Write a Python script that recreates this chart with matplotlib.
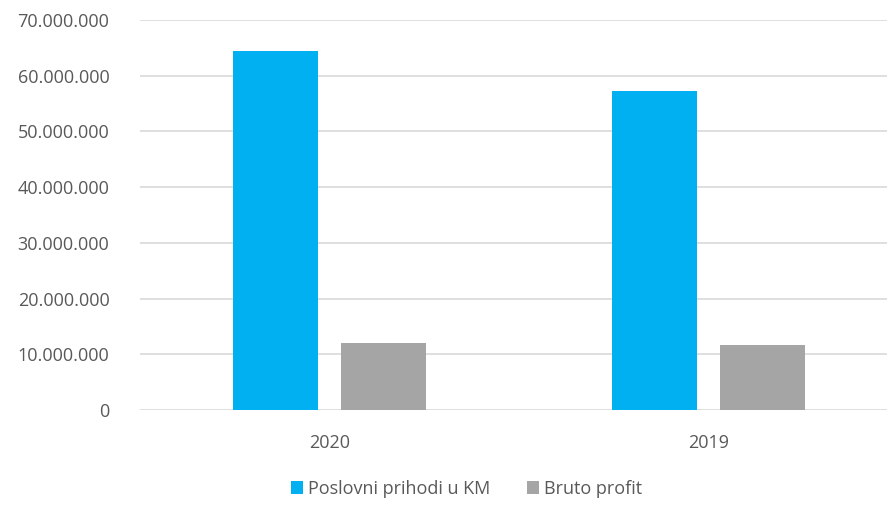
import matplotlib.pyplot as plt
import numpy as np
from matplotlib.ticker import FuncFormatter

years = ['2020', '2019']
prihodi = [64_500_000, 57_300_000]
profit = [12_100_000, 11_650_000]
series_names = ['Poslovni prihodi u KM', 'Bruto profit']
colors = ['#00b0f0', '#a5a5a5']

plt.rcParams['font.family'] = ['Open Sans', 'DejaVu Sans']
text_color = '#595959'

fig = plt.figure(figsize=(8.89, 5.08), dpi=100)
ax = fig.add_axes([0.1575, 0.193, 0.8403, 0.7676])

x = np.arange(len(years))
width = 0.224
offset = 0.1425
ax.bar(x - offset, prihodi, width, color=colors[0], label=series_names[0], zorder=3)
ax.bar(x + offset, profit, width, color=colors[1], label=series_names[1], zorder=3)

ax.set_xlim(-0.5, 1.47)
ax.set_ylim(0, 70_000_000)
ax.set_yticks(np.arange(0, 70_000_001, 10_000_000))
ax.yaxis.set_major_formatter(FuncFormatter(lambda v, p: f'{int(v):,}'.replace(',', '.')))
ax.set_xticks(x)
ax.set_xticklabels(years)
ax.tick_params(length=0, labelsize=13, colors=text_color)
ax.tick_params(axis='y', pad=22)
ax.tick_params(axis='x', pad=17)
ax.grid(axis='y', color='#d9d9d9', linewidth=1.2, zorder=0)
for s in ax.spines.values():
    s.set_visible(False)

leg = fig.legend(loc='lower center', bbox_to_anchor=(0.525, -0.012), ncol=2, frameon=False,
                 fontsize=13, handlelength=0.65, handleheight=0.65, handletextpad=0.3,
                 columnspacing=2.0)
for t in leg.get_texts():
    t.set_color(text_color)

fig.savefig('out.png', dpi=100)
